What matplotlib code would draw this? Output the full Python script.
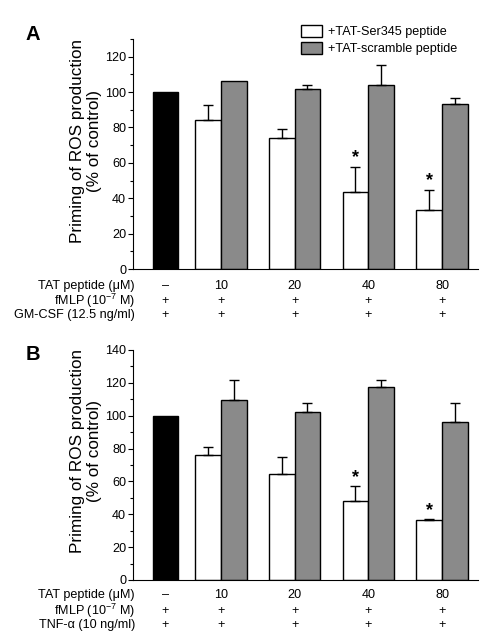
import numpy as np
import matplotlib
matplotlib.use("Agg")
import matplotlib.pyplot as plt
from matplotlib.patches import Patch
from matplotlib.ticker import MultipleLocator
from matplotlib.transforms import blended_transform_factory

plt.rcParams['font.family'] = ['Liberation Sans', 'DejaVu Sans']
plt.rcParams['mathtext.fontset'] = 'custom'
plt.rcParams['mathtext.rm'] = 'Liberation Sans'
plt.rcParams['mathtext.default'] = 'regular'

# data
doses = ["–", "10", "20", "40", "80"]
control = 100
ser345_A = [84.5, 74.3, 43.7, 33.1]
ser345_A_err = [8.3, 4.9, 14.0, 11.4]
scramble_A = [106.5, 102.0, 104.0, 93.0]
scramble_A_err = [0, 1.8, 11.2, 3.6]
stars_A = [False, False, True, True]

ser345_B = [76.3, 64.3, 48.3, 36.3]
ser345_B_err = [4.9, 10.4, 8.7, 0.6]
scramble_B = [109.5, 102.0, 117.6, 96.1]
scramble_B_err = [12.5, 6.0, 4.1, 11.9]
stars_B = [False, False, True, True]

rows_A = ["TAT peptide (\u03bcM)", "fMLP (10$^{\u22127}$ M)", "GM-CSF (12.5 ng/ml)"]
rows_B = ["TAT peptide (\u03bcM)", "fMLP (10$^{\u22127}$ M)", "TNF-\u03b1 (10 ng/ml)"]
legend_labels = ["+TAT-Ser345 peptide", "+TAT-scramble peptide"]

gray = "#8a8a8a"
fs = 9.1
W, H = 497, 639

fig = plt.figure(figsize=(W / 100, H / 100), dpi=100)


def panel(rect, ymax, ser, ser_err, scr, scr_err, stars, rows, letter, letter_y, row_y, ylab_y):
    ax = fig.add_axes(rect)
    x0 = 0.0
    g = np.array([2.25, 5.25, 8.25, 11.25])
    bw = 1.05
    ax.bar(x0, control, bw, color="black", edgecolor="black", lw=1.0)
    ax.bar(g - bw / 2, ser, bw, color="white", edgecolor="black", lw=1.0)
    ax.bar(g + bw / 2, scr, bw, color=gray, edgecolor="black", lw=1.0)
    for xs, vals, errs in [(g - bw / 2, ser, ser_err), (g + bw / 2, scr, scr_err)]:
        for x, v, e in zip(xs, vals, errs):
            if e > 0:
                ax.errorbar(x, v, yerr=[[0], [e]], color="black", lw=1.0,
                            capsize=3.8, capthick=1.0)
    for x, v, e, s in zip(g - bw / 2, ser, ser_err, stars):
        if s:
            ax.annotate("*", (x, v + e), xytext=(0, 0.5), textcoords="offset points",
                        ha="center", va="bottom", fontsize=13, fontweight="bold")
    ax.set_xlim(-1.32, 12.71)
    ax.set_ylim(0, ymax)
    ax.yaxis.set_major_locator(MultipleLocator(20))
    ax.yaxis.set_minor_locator(MultipleLocator(10))
    ax.tick_params(axis="y", which="major", length=3.5, width=0.8, labelsize=fs, pad=1.5)
    ax.tick_params(axis="y", which="minor", length=2, width=0.8)
    ax.set_xticks([])
    for sp in ["top", "right"]:
        ax.spines[sp].set_visible(False)
    ax.spines["left"].set_linewidth(0.8)
    ax.spines["bottom"].set_linewidth(0.8)

    tr = blended_transform_factory(ax.transData, fig.transFigure)
    centers = np.concatenate([[x0], g])
    for i, ry in enumerate(row_y):
        fig.text(135 / W, 1 - ry / H, rows[i], ha="right", va="center", fontsize=fs)
        for c, d in zip(centers, doses):
            lab = d if i == 0 else "+"
            ax.text(c, 1 - ry / H, lab, transform=tr, ha="center", va="center", fontsize=fs)
    fig.text(86 / W, 1 - ylab_y / H, "Priming of ROS production\n(% of control)",
             rotation=90, ha="center", va="center", multialignment="center",
             fontsize=12.3, linespacing=1.1)
    fig.text(33 / W, 1 - letter_y / H, letter,
             ha="center", va="center", fontsize=14.5, fontweight="bold")
    return ax


axA = panel([133 / W, 1 - 269 / H, 345 / W, 230 / H], 130,
            ser345_A, ser345_A_err, scramble_A, scramble_A_err, stars_A, rows_A, "A", 35,
            [285.7, 301, 315], 141)
axB = panel([133 / W, 1 - 580 / H, 345 / W, 230 / H], 140,
            ser345_B, ser345_B_err, scramble_B, scramble_B_err, stars_B, rows_B, "B", 355,
            [595.3, 610.7, 625], 451)

handles = [Patch(facecolor="white", edgecolor="black", lw=1.0),
           Patch(facecolor=gray, edgecolor="black", lw=1.0)]
fig.legend(handles, legend_labels, loc="upper left", bbox_to_anchor=(301 / W, 1 - 25 / H),
           frameon=False, fontsize=fs, handlelength=1.7, handleheight=1.05,
           handletextpad=0.45, labelspacing=0.32, borderpad=0, borderaxespad=0)

fig.savefig("out.png", dpi=100)
